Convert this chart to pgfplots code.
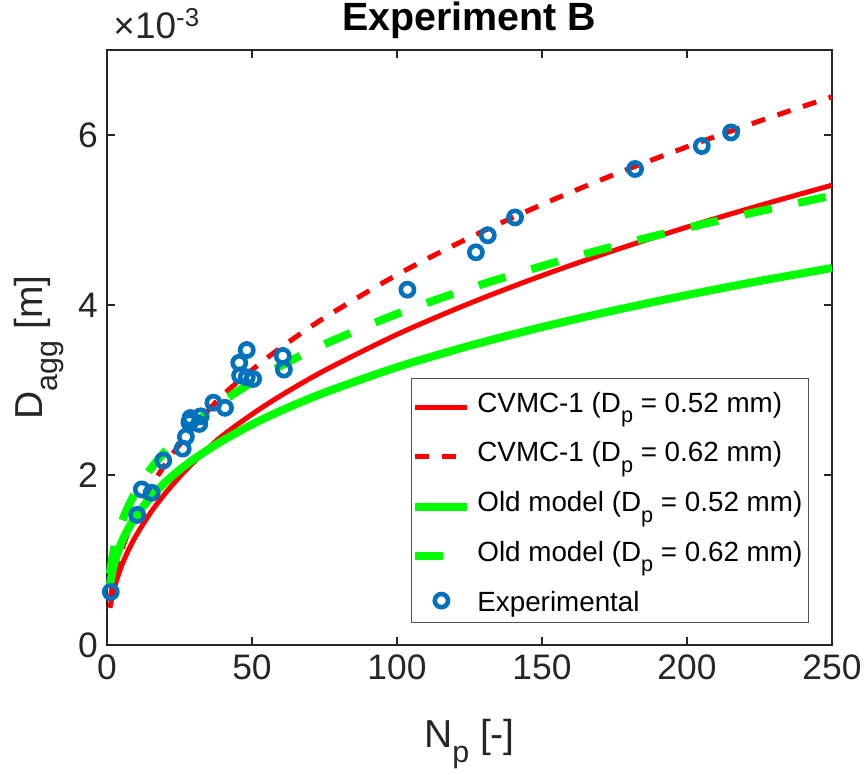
\documentclass[border=0pt]{standalone}
\usepackage{fontspec}
\setmainfont{Liberation Sans}
\usepackage{graphicx}
\usepackage{pgfplots}
\pgfplotsset{compat=1.18}
\usetikzlibrary{calc}
\definecolor{mblue}{RGB}{0,114,189}
\definecolor{axgray}{RGB}{38,38,38}
\newcommand{\msub}[1]{\raisebox{-0.38em}{\scalebox{0.78}{#1}}}
\pgfplotsset{
  lineleg/.style={legend image code/.code={\draw[##1] (0pt,2.5pt) -- (26pt,2.5pt);}},
  markleg/.style={legend image code/.code={\draw[##1] plot coordinates {(13pt,5.3pt)};}},
}
\begin{document}
\begin{tikzpicture}
\begin{axis}[name=ax,
  width=362.5pt, height=297.5pt, scale only axis,
  xmin=0, xmax=250, ymin=0, ymax=7,
  xtick={0,50,...,250}, ytick={0,2,4,6},
  tick align=inside, major tick length=3.8pt,
  axis line style={axgray, line width=0.8pt},
  every tick/.style={axgray, line width=0.8pt},
  tick label style={font=\fontsize{17.7}{20}\selectfont, text=axgray},
  /pgf/number format/assume math mode=true,
  yticklabel style={xshift=-1pt},
  xticklabel style={yshift=-1.5pt},
  xlabel={N\msub{p} [-]}, ylabel={D\msub{agg} [m]},
  label style={font=\fontsize{19.5}{22}\selectfont, text=axgray},
  xlabel style={at={($(axis description cs:0.5,0)+(0,-51.5pt)$)}, anchor=base},
  ylabel style={at={($(axis description cs:0,0.5)+(-32pt,0)$)}, anchor=base},
  title={Experiment B},
  every axis title shift=0pt,
  title style={font=\fontsize{19.7}{22}\selectfont\bfseries, at={($(axis description cs:0.5,1)+(0,9.5pt)$)}, anchor=base},
  clip=false,
  lineleg,
  legend style={at={(0.968,0.449)}, anchor=north east,
    font=\fontsize{13.9}{16}\selectfont, draw=axgray!80, line width=0.5pt,
    inner sep=0pt, row sep=2.4pt, column sep=0pt,
    cells={anchor=base west},
    nodes={text height=16.35pt, text depth=5.15pt, inner ysep=0.5pt, inner xsep=3pt}},
]
\addplot[red, line width=2.5pt, smooth] coordinates {
(1,0.436) (2,0.603) (3,0.730) (5,0.928) (7,1.087) (10,1.285) (15,1.555) (20,1.780)
(25,1.977) (30,2.153) (39,2.440) (50,2.714) (60,2.935) (75,3.229) (100,3.653)
(125,4.019) (150,4.346) (175,4.643) (200,4.916) (225,5.170) (250,5.409)};
\addlegendentry{CVMC-1 (D\msub{p} = 0.52 mm)}
\addplot[red, line width=2.5pt, dash pattern=on 7pt off 6.5pt, smooth] coordinates {
(1,0.520) (2,0.719) (3,0.870) (5,1.106) (7,1.296) (10,1.532) (15,1.854) (20,2.122)
(25,2.357) (30,2.567) (39,2.909) (50,3.236) (60,3.499) (75,3.850) (100,4.355)
(125,4.792) (150,5.182) (175,5.536) (200,5.861) (225,6.164) (250,6.449)};
\addlegendentry{CVMC-1 (D\msub{p} = 0.62 mm)}
\addplot[green, line width=4pt, smooth] coordinates {
(1,0.704) (2,0.887) (3,1.015) (5,1.204) (7,1.347) (10,1.516) (15,1.736) (20,1.911)
(25,2.059) (30,2.187) (39,2.387) (50,2.594) (60,2.756) (75,2.969) (100,3.268)
(125,3.520) (150,3.740) (175,3.937) (200,4.117) (225,4.282) (250,4.435)};
\addlegendentry{Old model (D\msub{p} = 0.52 mm)}
\addplot[green, line width=4pt, dash pattern=on 14pt off 13.5pt, smooth] coordinates {
(1,0.839) (2,1.057) (3,1.210) (5,1.435) (7,1.605) (10,1.807) (15,2.069) (20,2.277)
(25,2.453) (30,2.607) (39,2.845) (50,3.091) (60,3.285) (75,3.538) (100,3.895)
(125,4.195) (150,4.458) (175,4.693) (200,4.906) (225,5.103) (250,5.286)};
\addlegendentry{Old model (D\msub{p} = 0.62 mm)}
\addplot[only marks, mark=o, mark size=3.3pt, mblue, line width=2.3pt,
  mark options={solid, line width=2.3pt}, markleg] coordinates {
(1.3,0.625) (10.4,1.53) (12.0,1.83) (15.4,1.79) (19.4,2.17) (26.1,2.31) (27.2,2.45)
(28.4,2.62) (28.8,2.67) (31.8,2.60) (32.3,2.69) (36.7,2.85) (40.7,2.79)
(45.6,3.32) (48.2,3.47) (45.9,3.17) (48.2,3.15) (50.4,3.13) (60.6,3.40) (61.0,3.24)
(103.6,4.18) (127.2,4.62) (131.3,4.82) (140.7,5.03) (182.1,5.60) (205.1,5.87) (215.2,6.03)};
\addlegendentry{Experimental}
\end{axis}
\node[anchor=base west, font=\fontsize{18.5}{20}\selectfont, text=axgray, inner sep=0pt]
  at ([xshift=3pt,yshift=5.5pt]ax.north west) {×10\textsuperscript{-3}};
\pgfresetboundingbox
\path[use as bounding box] ([xshift=-53.5pt,yshift=-65pt]ax.south west) rectangle ([xshift=16pt,yshift=25pt]ax.north east);
\end{tikzpicture}
\end{document}
